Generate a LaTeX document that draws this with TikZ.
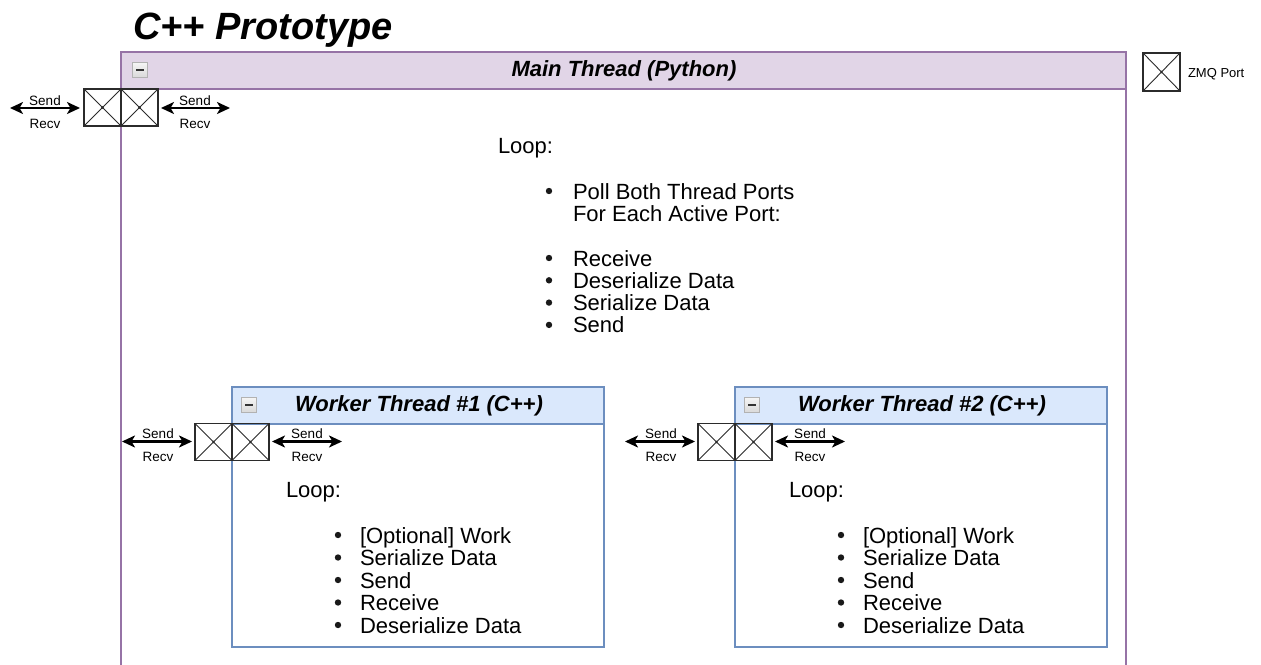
\documentclass[tikz,border=0pt]{standalone}
\usepackage{fontspec}
\setmainfont{Liberation Sans}
\usetikzlibrary{arrows.meta}

\definecolor{purplefill}{HTML}{E1D5E7}
\definecolor{purpleline}{HTML}{9673A6}
\definecolor{bluefill}{HTML}{DAE8FC}
\definecolor{blueline}{HTML}{6C8EBF}
\definecolor{portline}{HTML}{2B2B2B}

\newcommand{\pxsize}[1]{\fontsize{#1}{#1}\selectfont}

\tikzset{
  every node/.style={inner sep=0pt, outer sep=0pt},
  titletext/.style={font=\pxsize{38}\bfseries\itshape, anchor=base west},
  hdrtext/.style={font=\pxsize{22}\bfseries\itshape},
  bodytext/.style={font=\pxsize{22}, anchor=base west},
  bulletdot/.style={fill=black!90},
  smalltext/.style={font=\pxsize{13.5}, anchor=base},
  purplehdr/.style={draw=purpleline, fill=purplefill, line width=1.4pt,
    minimum width=1005pt, minimum height=37pt, anchor=north west},
  bluehdr/.style={draw=blueline, fill=bluefill, line width=1.4pt,
    minimum width=372pt, minimum height=37pt, anchor=north west},
  bluebody/.style={draw=blueline, line width=1.4pt,
    minimum width=372pt, minimum height=260pt, anchor=north west},
  collapse/.style={draw=gray!60, line width=1.6pt, minimum size=15pt,
    top color=gray!8, bottom color=gray!30,
    path picture={\draw[black!80, line width=2pt]
      ([xshift=3.5pt]path picture bounding box.west) --
      ([xshift=-3.5pt]path picture bounding box.east);}},
  port/.style={draw=portline, line width=1.3pt, minimum width=37pt,
    minimum height=37pt,
    path picture={\draw[portline, line width=0.9pt]
      (path picture bounding box.north west) -- (path picture bounding box.south east)
      (path picture bounding box.north east) -- (path picture bounding box.south west);
      \fill[portline] (path picture bounding box.center) circle (1.3pt);}},
  sendrecv/.style={line width=2.2pt, black,
    {Stealth[length=13pt,width=12pt,inset=3.5pt]}-{Stealth[length=13pt,width=12pt,inset=3.5pt]}}
}

\begin{document}
\begin{tikzpicture}[x=1pt, y=-1pt]
  \useasboundingbox (0,0) rectangle (1261,664);
  \fill[white] (0,0) rectangle (1261,664);

  % title
  \node[titletext] (title) at (133,39) {C++ Prototype};

  % main thread container (open at the bottom)
  \draw[purpleline, line width=1.4pt] (121,670) -- (121,52) -- (1126,52) -- (1126,670);
  \node[purplehdr] (mainhdr) at (121,52) {};
  \node[hdrtext] (maintitle) at (624,71) {Main Thread (Python)};
  \node[collapse] (mainicon) at (140,70) {};

  % main thread ports
  \node[port] (mp1) at (102.5,107.5) {};
  \node[port] (mp2) at (139.5,107.5) {};
  \coordinate (mpl) at (10,108);
  \coordinate (mpr) at (230,108);
  \draw[sendrecv, shorten >=4pt] (mpl) -- (mpl -| mp1.west);
  \draw[sendrecv, shorten <=3pt] (mpr -| mp2.east) -- (mpr);
  \node[smalltext] (mls) at (45,105) {Send};
  \node[smalltext] (mlr) at (45,128) {Recv};
  \node[smalltext] (mrs) at (195,105) {Send};
  \node[smalltext] (mrr) at (195,128) {Recv};

  % legend
  \node[port, minimum height=38pt] (legport) at (1161.5,72) {};
  \node[font=\pxsize{13}, anchor=base west] (legtext) at (1188,77.5) {ZMQ Port};

  % main thread loop text
  \node[bodytext] (mloop) at (498,153) {Loop:};
  \fill[bulletdot] (549,191) circle (3.2pt);
  \node[bodytext] (mpoll) at (573,199) {Poll Both Thread Ports};
  \node[bodytext] (meach) at (573,221.3) {For Each Active Port:};
  \foreach \txt [count=\i] in {Receive, Deserialize Data, Serialize Data, Send} {
    \fill[bulletdot] (549,{258+22.3*(\i-1)}) circle (3.2pt);
    \node[bodytext] (mi\i) at (573,{266+22.3*(\i-1)}) {\txt};
  }

  % worker threads
  \foreach \w/\x in {1/232, 2/735} {
    \node[bluebody] (w\w) at (\x,387) {};
    \node[bluehdr] (w\w hdr) at (\x,387) {};
    \node[hdrtext] (w\w title) at ({\x+186+1},406) {Worker Thread \#\w\ (C++)};
    \node[collapse] (w\w icon) at ({\x+17},405) {};

    \node[port] (w\w p1) at ({\x-18.5},442) {};
    \node[port] (w\w p2) at ({\x+18.5},442) {};
    \coordinate (w\w pl) at ({\x-110},441.5);
    \coordinate (w\w pr) at ({\x+110},441.5);
    \draw[sendrecv, shorten >=3pt] (w\w pl) -- (w\w pl -| w\w p1.west);
    \draw[sendrecv, shorten <=3pt] (w\w pr -| w\w p2.east) -- (w\w pr);
    \node[smalltext] (w\w ls) at ({\x-74},438.5) {Send};
    \node[smalltext] (w\w lr) at ({\x-74},461.5) {Recv};
    \node[smalltext] (w\w rs) at ({\x+75},438.5) {Send};
    \node[smalltext] (w\w rr) at ({\x+75},461.5) {Recv};

    \node[bodytext] (w\w loop) at ({\x+54},497) {Loop:};
    \foreach \txt [count=\i] in {{[Optional] Work}, Serialize Data, Send, Receive, Deserialize Data} {
      \fill[bulletdot] ({\x+106},{535+22.5*(\i-1)}) circle (3.2pt);
      \node[bodytext] (w\w i\i) at ({\x+128},{543+22.5*(\i-1)}) {\txt};
    }
  }
\end{tikzpicture}
\end{document}
